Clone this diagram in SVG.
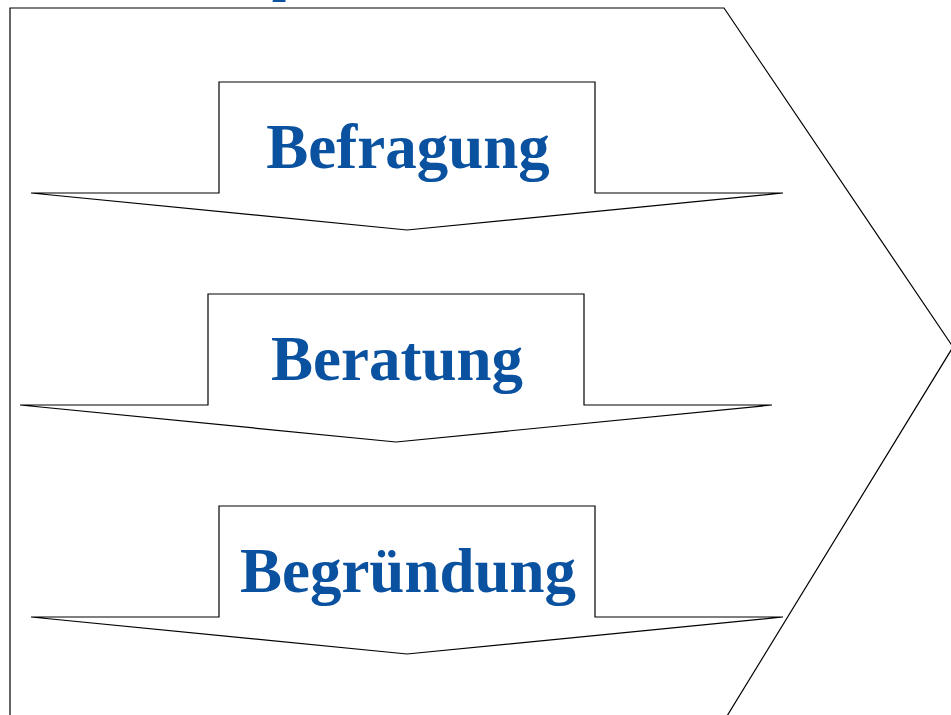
<svg xmlns="http://www.w3.org/2000/svg" width="951" height="715" viewBox="0 0 951 715">
  <style>
    .frame { fill: none; stroke: #000; stroke-width: 1.2; }
    .arrow { fill: #fff; stroke: #000; stroke-width: 1.2; stroke-linejoin: miter; }
    .label { font-family: "Liberation Serif", "DejaVu Serif", serif; font-weight: bold; font-size: 63px; fill: #0a52a0; text-anchor: middle; }
    .title { font-family: "Liberation Serif", "DejaVu Serif", serif; font-weight: bold; font-size: 50px; fill: #0a52a0; }
  </style>
  <rect width="951" height="715" fill="#fff"/>

  <!-- heading, mostly above the visible area -->
  <text class="title" x="272" y="-9">p</text>

  <!-- outer pentagon frame -->
  <g id="frame">
    <polyline class="frame" points="10,715 10,8 724,8 953,347 727,716"/>
  </g>

  <g id="connectors"></g>

  <g id="step-befragung">
    <polygon class="arrow" points="219,82 595,82 595,193 783,193 407,230 31,193 219,193"/>
    <text class="label" x="408" y="168">Befragung</text>
  </g>

  <g id="step-beratung">
    <polygon class="arrow" points="208,294 584,294 584,405 772,405 396,442 20,405 208,405"/>
    <text class="label" x="397" y="380">Beratung</text>
  </g>

  <g id="step-begruendung">
    <polygon class="arrow" points="219,506 595,506 595,617 783,617 407,654 31,617 219,617"/>
    <text class="label" x="408" y="592">Begründung</text>
  </g>
</svg>
